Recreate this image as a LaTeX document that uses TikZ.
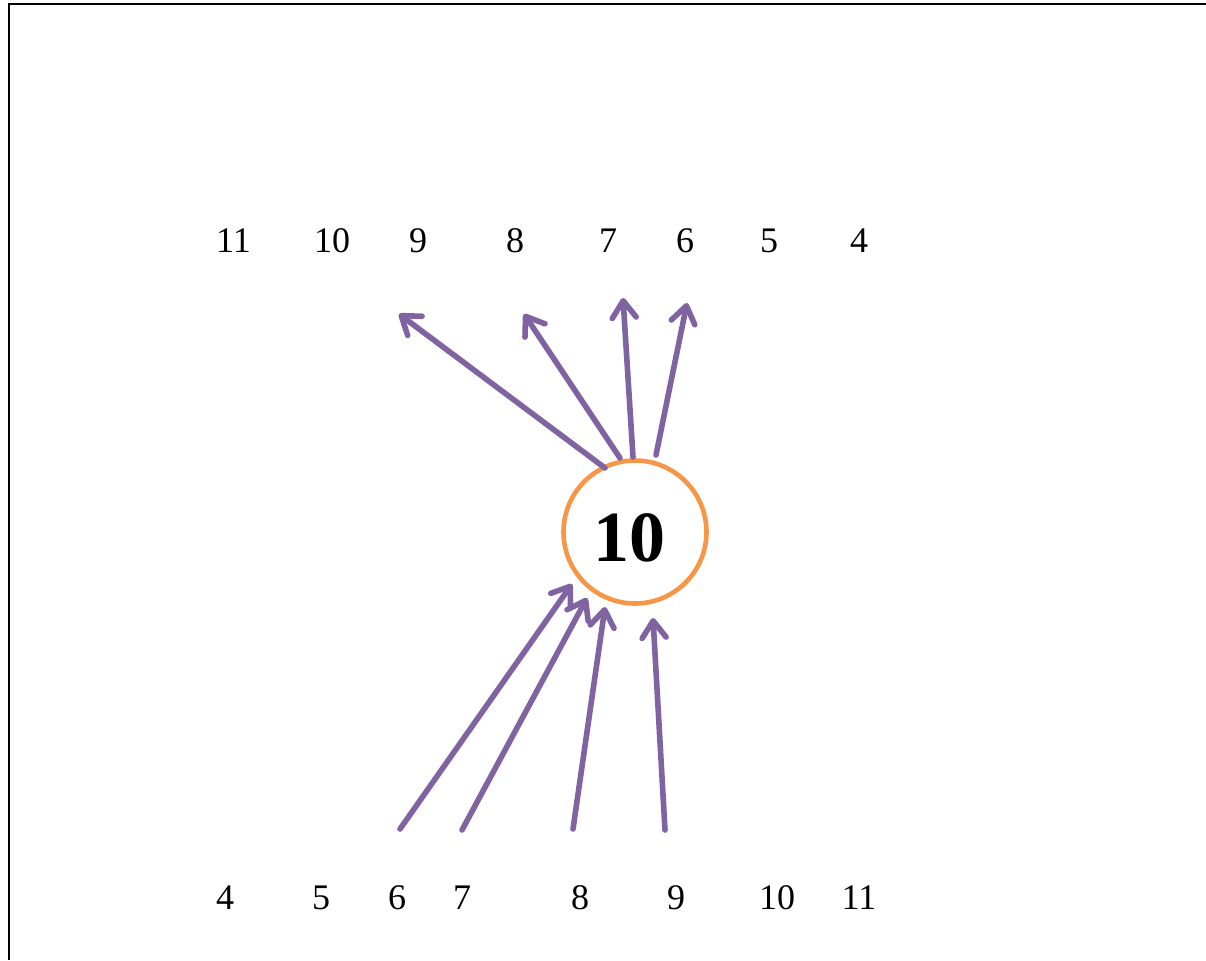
\documentclass[tikz,border=0pt]{standalone}
\usepackage{fontspec}
\setmainfont{Liberation Serif}
\usetikzlibrary{arrows.meta}
\definecolor{arrowpurple}{HTML}{8064A2}
\definecolor{ringorange}{HTML}{F79646}
\begin{document}
\begin{tikzpicture}[x=0.5pt,y=-0.5pt,
  lbl/.style={inner sep=0pt, anchor=center, font=\fontsize{18}{20}\selectfont},
  ring/.style={circle, draw=ringorange, line width=2.3pt, minimum size=71.5pt, inner sep=0pt},
  bigtxt/.style={inner sep=0pt, anchor=center, font=\fontsize{36}{40}\selectfont\bfseries},
  arr/.style={draw=arrowpurple, line width=2.8pt, line cap=round,
    -{Straight Barb[length=8.5pt,width=12pt,round]}},
  frame/.style={draw=black, line width=1pt}]
\useasboundingbox (0,0) rectangle (1206,960);
% frame (top and left edges)
\coordinate (f1) at (1206,4);
\coordinate (f2) at (9,4);
\coordinate (f3) at (9,960);
\draw[frame] (f1) -- (f2) -- (f3);
% top labels
\node[lbl] (t11) at (233.5,241) {11};
\node[lbl] (t10) at (332,241) {10};
\node[lbl] (t9) at (418,241) {9};
\node[lbl] (t8) at (515,241) {8};
\node[lbl] (t7) at (608,241) {7};
\node[lbl] (t6) at (685,241) {6};
\node[lbl] (t5) at (769,241) {5};
\node[lbl] (t4) at (859,241) {4};
% bottom labels
\node[lbl] (b4) at (225,897.5) {4};
\node[lbl] (b5) at (321,897.5) {5};
\node[lbl] (b6) at (397,897.5) {6};
\node[lbl] (b7) at (462,897.5) {7};
\node[lbl] (b8) at (580,897.5) {8};
\node[lbl] (b9) at (676,897.5) {9};
\node[lbl] (b10) at (777,897.5) {10};
\node[lbl] (b11) at (859,897.5) {11};
% central circle
\node[ring] (c) at (635,532) {};
\node[bigtxt] (ct) at (629,537.5) {10};
% outgoing arrows (top)
\coordinate (o1s) at (605,468);
\coordinate (o1e) at (399,314);
\coordinate (o2s) at (620,458);
\coordinate (o2e) at (524,314);
\coordinate (o3s) at (633,457);
\coordinate (o3e) at (623,298);
\coordinate (o4s) at (656,455);
\coordinate (o4e) at (687,303);
\draw[arr] (o1s) -- (o1e);
\draw[arr] (o2s) -- (o2e);
\draw[arr] (o3s) -- (o3e);
\draw[arr] (o4s) -- (o4e);
% incoming arrows (bottom)
\coordinate (i1s) at (400,829);
\coordinate (i1e) at (572,584);
\coordinate (i2s) at (462,830);
\coordinate (i2e) at (587,598);
\coordinate (i3s) at (573,829);
\coordinate (i3e) at (605,607);
\coordinate (i4s) at (665,830);
\coordinate (i4e) at (653,618);
\draw[arr] (i1s) -- (i1e);
\draw[arr] (i2s) -- (i2e);
\draw[arr] (i3s) -- (i3e);
\draw[arr] (i4s) -- (i4e);
\end{tikzpicture}
\end{document}
